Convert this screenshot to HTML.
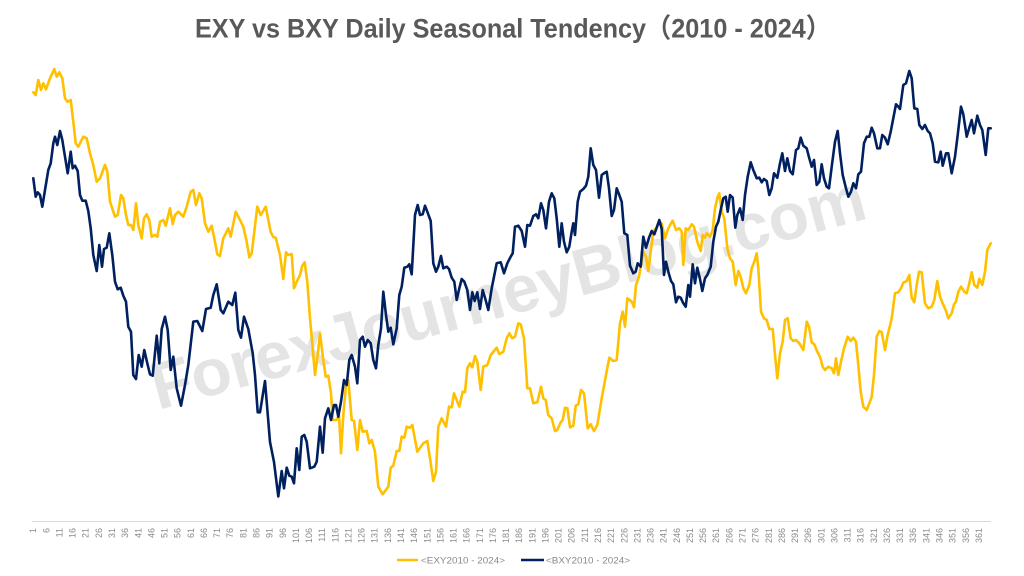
<!DOCTYPE html>
<html>
<head>
<meta charset="utf-8">
<style>
html,body{margin:0;padding:0;background:#fff;}
svg{display:block;}
</style>
</head>
<body>
<svg width="1024" height="576" viewBox="0 0 1024 576" xmlns="http://www.w3.org/2000/svg">
<rect width="1024" height="576" fill="#ffffff"/>

<!-- Title -->
<text x="195" y="37.5" font-family="Liberation Sans, 'Noto Sans CJK JP', sans-serif" font-size="27" font-weight="bold" fill="#595959" textLength="636" lengthAdjust="spacingAndGlyphs">EXY vs BXY Daily Seasonal Tendency（2010 - 2024）</text>

<!-- Watermark -->
<text transform="translate(158,410) rotate(-15.1)" x="0" y="0" font-family="Liberation Sans, sans-serif" font-size="66" font-weight="bold" fill="#e4e4e4" textLength="737" lengthAdjust="spacingAndGlyphs">ForexJourneyBlog.com</text>

<!-- Axis line -->
<line x1="32" y1="521.5" x2="991" y2="521.5" stroke="#d9d9d9" stroke-width="1"/>

<!-- Yellow series EXY -->
<polyline fill="none" stroke="#FFC000" stroke-width="2.6" stroke-linejoin="round" stroke-linecap="round" points="33.3,92.3 35.7,95 38.3,80 41,90 43.3,83.3 46,89.3 50,78.3 54.3,69 56.7,76.7 59.3,72.3 62.3,78.3 65,98.3 67.3,101.7 70.7,100 73.3,121.7 75.7,143.3 78.3,146.7 83.3,136.7 86.7,138.3 90,153.3 93.3,165 96.7,181.7 100,178.3 105,165 107.3,171.7 110,201.7 115,216.7 117.7,215 121,195 123.3,198.3 126,215 128.3,225 131,225 133.3,230 136,203.3 138.3,225 141.7,238.3 144,218.3 146.7,214.3 149.3,220 151.7,236.7 155,235 157.3,236.7 160,221.7 163.3,220 165.7,225.7 170,208.3 172.7,224 175,215 178.3,211.7 183.3,216.7 186.7,206.7 190.7,191.7 193.3,190 196,205 199.3,193.3 201.7,198.3 205,223.3 208.3,231.7 211.7,225.7 214.3,238.3 217.3,254.3 220,256 223.3,238.3 228.3,228.3 230.7,236.7 235.7,211.7 240,220 243.3,226.7 246.7,241.7 249.3,257.3 251.7,253.3 257.3,206.7 260.7,215 265.7,206.7 270.7,232 273.3,237 275.7,237.7 280,255 283.3,279 286,252.3 288.3,255 291.7,254 294,288.3 296.7,281.7 300,275 302.3,265.7 304.7,262.3 307.3,281.7 310,318.3 312.7,348.3 315,375 317.7,355 320,333.3 323.3,360 325.7,376.7 328.3,375.7 331,393.3 332.7,420 336.7,420 339,415 341,453.3 343.3,415 346,385 348.3,380 351.7,420 354,420.7 357.3,450 360,420 362.7,431.7 366.7,431 369.3,443.3 371.7,440 375,451.7 378.3,486.7 382.7,494.3 388.3,486.7 390.7,467.7 393.3,465.7 396.7,451 399.3,451 401.7,436.7 404.3,437.7 406.7,426.7 410,427.7 412.3,425 417.3,451.7 423.3,443.3 427.3,441 430,458.3 433.3,481 436,471.7 438.3,426.7 441.7,418.3 446,426.7 449,406.7 451.7,407.3 454,393.3 459.3,406.7 462.7,391.7 465,392.3 467.3,368.3 470,363.3 472.3,367.3 475,356 477.3,361.7 480.7,390 483.3,366.7 487.3,365 490.7,355 494,351 496.7,347.7 499.3,354 503.3,351.7 506.7,338.3 509.3,333.3 512.3,338.3 515,336.7 518.3,323.3 520.7,324.3 524,338.3 527.3,388.3 530,388.3 533.3,403.3 537.3,402.3 541,386.7 543.3,398.3 545.7,400 548.3,415 551.7,418.3 555,431 557.3,430 560.7,422.3 562.7,420 565,407.7 567.3,408.3 570,427.3 573.3,425.7 575.7,405.7 578.3,404.3 581,390 584,393.3 587.7,428.3 590.7,424.3 594,431 597.3,425 601.7,398.3 606,375 609.3,357.7 613.3,361 616.7,360 620,323.3 622.7,311.7 625,326.7 627.3,298.3 631.7,301.7 634,307.3 636,285 639,276.7 643.3,251.7 646,256.7 648.3,271 650.7,251.7 653.3,231 656,228.3 659.3,221.7 661.7,223.3 665,238.3 667.7,230 670,225 672.7,220.7 676,230 679.3,228.3 681.7,231.7 683.3,265 685.7,228.3 688.3,230 691.7,224.3 694,226.7 697.3,241.7 700.7,251 702.7,235 705,237.7 706.7,233.3 710,236.7 712.7,230 715,208.3 717.7,196.7 719.3,193.3 721.7,211.7 724.3,218.3 727.3,248.3 730,258.3 732.7,261.7 735.7,285 738.3,271 740.7,276.7 743.3,288.3 746,293.3 749.3,285 751.7,268.3 754.3,261.7 756.7,253.3 758.3,268.3 761,311.7 764,318.3 766.7,320 769.3,329 772.7,329 775,355 777.3,378.3 780,353.3 782.7,341.7 785,320 787.7,318.3 790.7,338.3 793.3,341 796,340 799.3,343.3 803.3,350 806.7,321.7 809,326.7 811.7,342.3 814.3,344.3 817.3,351.7 820,356.7 822.7,366.7 825,370 828.3,366.7 831.7,368.3 834,373.3 836,358.3 838.3,375 841,361.7 844,348.3 847.7,336.7 850.7,341 853.3,337.7 856,341.7 858.3,365 860.7,391.7 863.3,406.7 866.7,410 869.3,403.3 871.7,396.7 874,375 876.7,336.7 879.3,331 881.7,332.3 885,350 887.7,335 891.7,318.3 895,293.3 898.3,292.3 901,288.3 903.3,282.7 906.7,281 909.3,275 911.7,297.7 914.3,302.3 916.7,285 919,271.7 921.7,272.3 925,303.3 928.3,308.3 931.7,306.7 934.3,300 937.3,281 940,296.7 942.7,303.3 946,311 948.3,318.3 951.7,313.3 954,304.3 956,301.7 958.3,291.7 961,286.7 964.3,291.7 966.7,293.3 969.3,283.3 971.7,272.3 974.3,285 977.3,287.7 979.3,278.7 982.3,285 985,271.7 987.3,250 990.7,243.3"/>

<!-- Navy series BXY -->
<polyline fill="none" stroke="#002060" stroke-width="2.6" stroke-linejoin="round" stroke-linecap="round" points="33.3,178.3 35.7,196.7 37.7,192.3 40,195 42.3,206.7 45,190 48.3,170 50.7,163.3 53.3,143.3 55,136.7 57.3,145 60,131 62.3,140 65,156.7 67.7,173.3 70.7,151.7 72.7,168.3 75,165.7 77.7,171 80,195 82.3,200.7 85.7,200.7 88.3,211 90.7,228.3 93.3,255 96.7,271 99.3,245 102,266.7 104,249 106.7,247.7 109.3,233.3 112.3,255 115,281.7 117.7,289.3 120.7,287.7 123.3,295.7 126,301.7 128.3,326.7 131,331.7 133.3,375 136,379 138.7,355 141.7,366.7 144.3,350 147.3,363.3 150,374.3 152.7,375.7 156.7,335.7 159.3,363.3 161.7,329 165,316.7 167.7,330 170.7,370 173.3,356.7 176.7,388.3 181,405.7 185,385 188.3,365 193.3,321.7 197.3,321 202.3,331 206,309 210.7,307.7 213.3,295 216.7,284.3 220.7,310 223.3,313.3 228.3,301.7 232.3,305 235.3,292.7 238.3,330 241,337.7 244,316.7 248.3,329 252.7,353.3 255,375 257.7,412.3 260,412.3 265,381 270,442 274,462 278.3,496.5 281.7,471 284,488.3 286.7,467.7 289.3,475.7 291.7,476.7 294,483.3 296.7,448.3 299.3,470 301.7,436.7 304.3,435 306.7,441.7 310,468.3 314.3,466.7 316.7,461.7 320,426.7 322.7,452.7 325,418.3 328.3,408.3 331,420 334,405 336,405 338.3,416.7 341,401.7 344,380 346.7,385 349.3,360 351.7,355 355,366.7 357.3,383.3 360,340 362.7,336.7 365,346.7 367.7,340 370.7,343.3 373.3,360 376,368.3 378.3,345 381,328.3 383.3,291.7 386,315 388.3,331.7 390.7,327.7 393.3,344.3 396.7,328.3 399.3,295 401.7,286.7 404.3,267.7 407.3,266.7 409.3,264.3 411.7,274.3 415,215 417.7,205 420,215 422.7,214.3 425,205.7 427.3,211.7 430.7,221 433.3,263.3 436,271.7 438.3,266.7 441,256 443.3,268.3 446.7,266.7 449,269 451.7,277.7 454.3,281.7 456.7,300 459.3,288.3 461.7,279 464.3,281.7 467.3,290 470,310 472.3,292.3 474.7,301 477.3,292.3 480,309 482.7,290 485,297.7 488.3,310 491.7,288.3 496.7,263.3 500.7,262.3 504,273.3 507.3,263.3 510.7,256.7 512.7,253.3 515,226.7 518.3,225.7 521.7,231 525,246.7 527.3,225 530,225.7 533.3,216 536,214.3 538.3,218.3 541,203.3 543.3,210 546,228.3 549,201.7 551.7,193.3 554.3,198.3 556.7,218.3 559.3,246.7 561.7,223.3 564,241.7 566.7,252.3 569.3,246.7 571.7,231.7 573.3,223.3 575,235 577.7,201.7 580,191.7 583.3,189 586,185.7 588.3,176.7 590.7,148.3 593.3,165 596,170 599,197.7 601.7,175 604,173.3 606.7,171.7 609,188.3 611.7,216 614,210 616.7,188.3 619.3,195 621.7,201.7 624.3,233.3 627.3,235 630,265.7 633.3,273.3 635.7,271.7 637.7,263.3 640.7,266.7 643.3,236.7 646,247.7 649,237.7 651.7,231 654.3,234.3 656.7,227.7 659.3,220 661.7,229 664,275 666,261.7 668.3,271.7 671,281 673.3,284.3 676,302.3 678.3,296.7 680.7,297.7 683.3,303.3 685.7,306.7 688.3,285 690,296.7 692.7,264.3 695,283.3 697.3,267.7 700,279 702.3,291 705,278.3 707.3,275 710.7,266.7 713.3,241.7 716,226.7 718.3,221.7 720.7,210 723.3,198.3 725.7,196.7 727.7,211.7 730,195 732.7,197.7 735.3,227.7 737.3,215 740,208.3 742.7,220 745,195 747.7,176.7 750.7,162.3 753.3,170 756.7,178.3 759.3,177.7 761.7,182.3 764,179 766.7,181 769.3,195 771.7,188.3 774,173.3 777.3,177.7 780,163.3 782.3,153.3 785,171 787.3,158.3 790,171 792.7,174.3 796,150 798.3,148.3 800.7,137.7 803.3,145.7 806.7,148.3 809.3,158.3 811.7,166.7 814,160 816.7,185 819.3,181.7 821.7,164.3 824,178.3 826.7,186.7 829,188.3 831.7,166.7 835,141.7 837.7,131 840,153.3 842.7,175 846,188.3 848.3,196.7 851,191.7 853.3,183.3 856,188.3 858.3,174.3 861,171.7 864,143.3 866.7,136.7 869.3,136.7 871.7,127.7 874,133.3 877.3,148.3 880,148.3 882.3,135 885,137.7 887.7,144.3 890.7,131.7 893.3,118.3 896,104.3 898.3,106.7 900,109 903.3,85 906,83.3 909.3,71 911.7,78.3 914.3,108.3 917.3,109 919.3,125 922.3,129 925,125 927.7,131 930,133.3 932.7,143.3 935,161.7 938.3,162.3 940.7,151.7 942.7,165.7 946,153.3 948.3,153.3 951.7,173.3 955,156.7 957.7,135 961,106.7 963.3,114.3 966.7,136.7 969.3,127.7 971.7,120 974,133.3 977.3,115.7 980,125 982.3,130 985.7,155 988.3,128.3 990.7,128.3"/>

<!-- X tick labels -->
<g transform="rotate(-90)" font-family="Liberation Sans, sans-serif" font-size="9" fill="#8a8a8a" text-anchor="end">
<text x="-528" y="36.2">1</text>
<text x="-528" y="49.3">6</text>
<text x="-528" y="62.5">11</text>
<text x="-528" y="75.6">16</text>
<text x="-528" y="88.7">21</text>
<text x="-528" y="101.9">26</text>
<text x="-528" y="115.0">31</text>
<text x="-528" y="128.1">36</text>
<text x="-528" y="141.3">41</text>
<text x="-528" y="154.4">46</text>
<text x="-528" y="167.6">51</text>
<text x="-528" y="180.7">56</text>
<text x="-528" y="193.8">61</text>
<text x="-528" y="207.0">66</text>
<text x="-528" y="220.1">71</text>
<text x="-528" y="233.2">76</text>
<text x="-528" y="246.4">81</text>
<text x="-528" y="259.5">86</text>
<text x="-528" y="272.6">91</text>
<text x="-528" y="285.8">96</text>
<text x="-528" y="298.9">101</text>
<text x="-528" y="312.0">106</text>
<text x="-528" y="325.2">111</text>
<text x="-528" y="338.3">116</text>
<text x="-528" y="351.4">121</text>
<text x="-528" y="364.6">126</text>
<text x="-528" y="377.7">131</text>
<text x="-528" y="390.8">136</text>
<text x="-528" y="404.0">141</text>
<text x="-528" y="417.1">146</text>
<text x="-528" y="430.3">151</text>
<text x="-528" y="443.4">156</text>
<text x="-528" y="456.5">161</text>
<text x="-528" y="469.7">166</text>
<text x="-528" y="482.8">171</text>
<text x="-528" y="495.9">176</text>
<text x="-528" y="509.1">181</text>
<text x="-528" y="522.2">186</text>
<text x="-528" y="535.3">191</text>
<text x="-528" y="548.5">196</text>
<text x="-528" y="561.6">201</text>
<text x="-528" y="574.7">206</text>
<text x="-528" y="587.9">211</text>
<text x="-528" y="601.0">216</text>
<text x="-528" y="614.1">221</text>
<text x="-528" y="627.3">226</text>
<text x="-528" y="640.4">231</text>
<text x="-528" y="653.5">236</text>
<text x="-528" y="666.7">241</text>
<text x="-528" y="679.8">246</text>
<text x="-528" y="693.0">251</text>
<text x="-528" y="706.1">256</text>
<text x="-528" y="719.2">261</text>
<text x="-528" y="732.4">266</text>
<text x="-528" y="745.5">271</text>
<text x="-528" y="758.6">276</text>
<text x="-528" y="771.8">281</text>
<text x="-528" y="784.9">286</text>
<text x="-528" y="798.0">291</text>
<text x="-528" y="811.2">296</text>
<text x="-528" y="824.3">301</text>
<text x="-528" y="837.4">306</text>
<text x="-528" y="850.6">311</text>
<text x="-528" y="863.7">316</text>
<text x="-528" y="876.8">321</text>
<text x="-528" y="890.0">326</text>
<text x="-528" y="903.1">331</text>
<text x="-528" y="916.2">336</text>
<text x="-528" y="929.4">341</text>
<text x="-528" y="942.5">346</text>
<text x="-528" y="955.7">351</text>
<text x="-528" y="968.8">356</text>
<text x="-528" y="981.9">361</text>
</g>

<!-- Legend -->
<line x1="397" y1="560" x2="418" y2="560" stroke="#FFC000" stroke-width="2.6"/>
<text x="421" y="563.5" font-family="Liberation Sans, sans-serif" font-size="9.5" fill="#8a8a8a" textLength="84" lengthAdjust="spacingAndGlyphs">&lt;EXY2010 - 2024&gt;</text>
<line x1="521" y1="560" x2="544" y2="560" stroke="#002060" stroke-width="2.6"/>
<text x="546" y="563.5" font-family="Liberation Sans, sans-serif" font-size="9.5" fill="#8a8a8a" textLength="84" lengthAdjust="spacingAndGlyphs">&lt;BXY2010 - 2024&gt;</text>
</svg>
</body>
</html>
